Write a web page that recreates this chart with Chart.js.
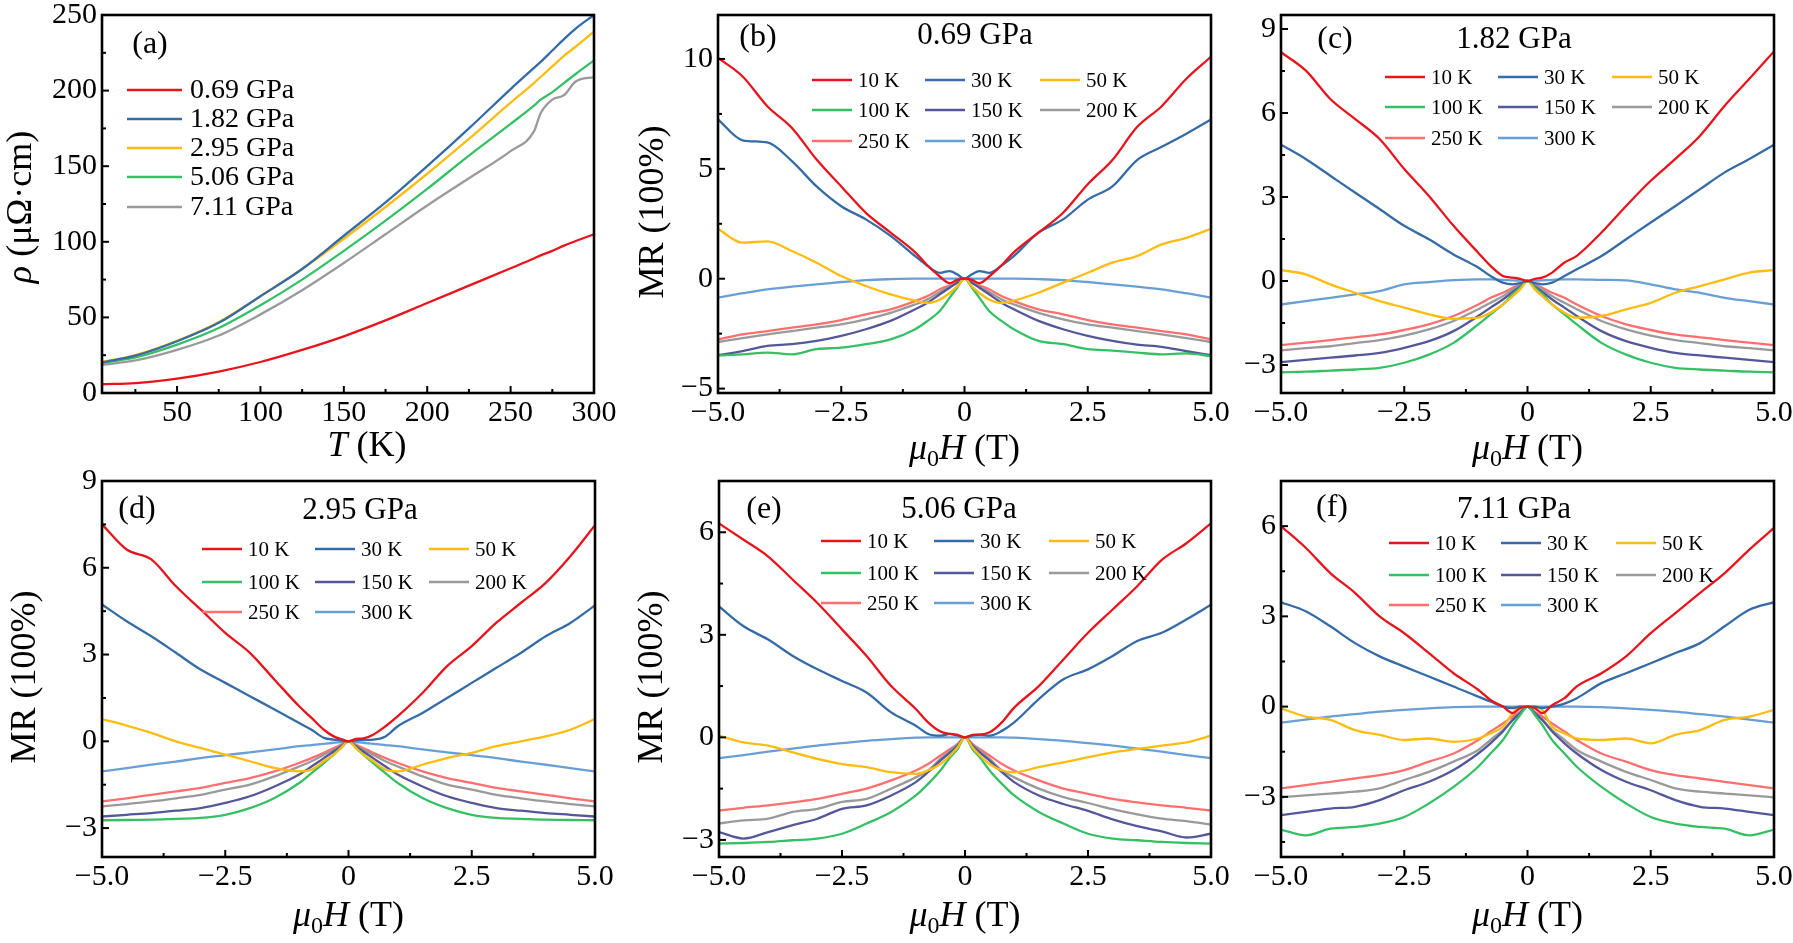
<!DOCTYPE html>
<html>
<head>
<meta charset="utf-8">
<script src="https://cdn.jsdelivr.net/npm/chart.js@4.4.0/dist/chart.umd.min.js"></script>
<style>
  body { margin: 0; background: #fff; width: 1793px; height: 943px; position: relative; overflow: hidden; }
  canvas { position: absolute; }
</style>
</head>
<body>
<script>
// ---- data ----
const T = [5, 25, 50, 75, 100, 125, 150, 175, 200, 225, 250, 264, 268, 275, 282, 289, 300];
const rho069 = [5.8, 6.5, 9.5, 14.2, 20.5, 28.5, 37.5, 48, 59.5, 71, 82.5, 89, 91, 94, 97.5, 100.5, 105];
const rho182 = [20.3, 24.7, 34.2, 46.4, 64, 82, 104, 126, 150, 175, 201, 215, 219, 226.5, 234, 241, 250];
const rho295 = [20.5, 25, 34.5, 47, 64, 82, 102, 123, 145, 168, 192, 205, 209, 216, 223, 229, 239];
const rho506 = [19.8, 23.5, 32, 43, 58, 75, 94, 114, 135, 157, 178, 190, 194, 199, 205, 211, 220];
const rho711 = [18.5, 21.5, 28.5, 38, 52, 68, 86, 105, 124, 142, 160, 173, 185, 194, 197, 206, 209];
const PRESSURES = ['0.69 GPa', '1.82 GPa', '2.95 GPa', '5.06 GPa', '7.11 GPa'];

const H = [-5, -4.5, -4, -3.5, -3, -2.5, -2, -1.5, -1, -0.75, -0.5, -0.3, -0.15, 0, 0.15, 0.3, 0.5, 0.75, 1, 1.5, 2, 2.5, 3, 3.5, 4, 4.5, 5];
const TEMPS = ['10 K', '30 K', '50 K', '100 K', '150 K', '200 K', '250 K', '300 K'];

// (b) 0.69 GPa
const b10  = [10.05, 9.2, 7.85, 6.86, 5.42, 4.2, 3.0, 2.1, 1.2, 0.6, 0.1, -0.2, -0.05, 0, -0.05, -0.2, 0.1, 0.6, 1.2, 2.1, 3.0, 4.3, 5.4, 6.9, 7.85, 9.1, 10.1];
const b30  = [7.25, 6.3, 6.2, 5.35, 4.2, 3.3, 2.7, 1.95, 1.03, 0.58, 0.27, 0.35, 0.2, 0, 0.2, 0.35, 0.27, 0.6, 1.03, 2.1, 2.7, 3.6, 4.2, 5.4, 6.0, 6.6, 7.25];
const b50  = [2.27, 1.64, 1.7, 1.26, 0.73, 0.12, -0.33, -0.71, -1.0, -1.1, -0.95, -0.65, -0.35, 0, -0.35, -0.65, -0.95, -1.1, -1.0, -0.64, -0.18, 0.27, 0.73, 1.03, 1.56, 1.86, 2.27];
const b100 = [-3.5, -3.44, -3.36, -3.44, -3.2, -3.14, -2.98, -2.76, -2.3, -1.92, -1.47, -0.86, -0.41, 0, -0.41, -0.86, -1.47, -1.92, -2.3, -2.83, -2.98, -3.2, -3.27, -3.36, -3.44, -3.4, -3.52];
const b150 = [-3.48, -3.29, -3.06, -2.98, -2.83, -2.6, -2.3, -1.92, -1.39, -1.09, -0.71, -0.41, -0.18, 0, -0.18, -0.41, -0.71, -1.09, -1.39, -1.92, -2.3, -2.6, -2.83, -3.0, -3.1, -3.3, -3.48];
const b200 = [-2.88, -2.7, -2.53, -2.38, -2.23, -2.08, -1.85, -1.55, -1.17, -0.94, -0.6, -0.36, -0.18, 0, -0.18, -0.36, -0.6, -0.94, -1.17, -1.55, -1.85, -2.08, -2.23, -2.38, -2.53, -2.7, -2.88];
const b250 = [-2.76, -2.53, -2.38, -2.23, -2.08, -1.88, -1.62, -1.39, -1.02, -0.79, -0.48, -0.3, -0.15, 0, -0.15, -0.3, -0.48, -0.79, -1.02, -1.39, -1.62, -1.88, -2.08, -2.23, -2.38, -2.53, -2.76];
const b300 = [-0.86, -0.66, -0.48, -0.36, -0.26, -0.15, -0.06, -0.02, 0, 0, 0, 0, 0, 0, 0, 0, 0, 0, 0, -0.02, -0.06, -0.15, -0.26, -0.36, -0.48, -0.66, -0.86];

// (c) 1.82 GPa
const c10  = [8.17, 7.52, 6.5, 5.79, 5.07, 4.0, 3.04, 1.97, 1.01, 0.54, 0.18, 0.12, 0.08, 0, 0.08, 0.12, 0.3, 0.66, 0.9, 1.73, 2.68, 3.58, 4.36, 5.19, 6.26, 7.22, 8.2];
const c30  = [4.87, 4.36, 3.76, 3.16, 2.57, 1.97, 1.49, 0.95, 0.48, 0.18, -0.06, -0.12, -0.08, 0, -0.08, -0.12, -0.06, 0.18, 0.42, 0.89, 1.49, 2.09, 2.68, 3.28, 3.88, 4.36, 4.87];
const c50  = [0.39, 0.24, -0.12, -0.42, -0.72, -0.95, -1.19, -1.35, -1.31, -1.13, -0.84, -0.54, -0.3, 0, -0.3, -0.54, -0.84, -1.13, -1.31, -1.25, -1.01, -0.78, -0.42, -0.18, 0.06, 0.3, 0.39];
const c100 = [-3.26, -3.24, -3.2, -3.16, -3.1, -2.92, -2.63, -2.21, -1.55, -1.19, -0.84, -0.48, -0.24, 0, -0.24, -0.48, -0.84, -1.19, -1.55, -2.21, -2.63, -2.92, -3.1, -3.16, -3.2, -3.24, -3.26];
const c150 = [-2.9, -2.82, -2.74, -2.66, -2.57, -2.39, -2.15, -1.79, -1.25, -0.95, -0.66, -0.39, -0.2, 0, -0.2, -0.39, -0.66, -0.95, -1.25, -1.79, -2.15, -2.39, -2.57, -2.66, -2.74, -2.82, -2.9];
const c200 = [-2.48, -2.4, -2.33, -2.22, -2.11, -1.95, -1.73, -1.43, -1.01, -0.78, -0.54, -0.3, -0.16, 0, -0.16, -0.3, -0.54, -0.78, -1.01, -1.43, -1.73, -1.95, -2.11, -2.22, -2.33, -2.4, -2.48];
const c250 = [-2.29, -2.2, -2.11, -2.01, -1.91, -1.75, -1.55, -1.25, -0.84, -0.6, -0.42, -0.24, -0.12, 0, -0.12, -0.24, -0.42, -0.6, -0.84, -1.25, -1.55, -1.75, -1.91, -2.01, -2.11, -2.2, -2.29];
const c300 = [-0.84, -0.72, -0.6, -0.48, -0.36, -0.12, -0.04, 0.03, 0.06, 0.06, 0.04, 0.02, 0.01, 0, 0.01, 0.02, 0.04, 0.06, 0.06, 0.04, 0.02, -0.12, -0.3, -0.42, -0.6, -0.72, -0.84];

// (d) 2.95 GPa
const d10  = [7.5, 6.63, 6.29, 5.36, 4.56, 3.75, 3.06, 2.13, 1.21, 0.81, 0.4, 0.17, 0.08, 0, 0.08, 0.1, 0.23, 0.52, 0.87, 1.67, 2.6, 3.29, 4.1, 4.79, 5.48, 6.4, 7.47];
const d30  = [4.73, 4.15, 3.63, 3.06, 2.48, 2.02, 1.56, 1.1, 0.63, 0.4, 0.12, 0.06, 0.03, 0, 0.03, 0.05, 0.06, 0.17, 0.52, 0.98, 1.5, 2.02, 2.54, 3.06, 3.63, 4.09, 4.7];
const d50  = [0.77, 0.54, 0.29, 0, -0.23, -0.46, -0.69, -0.92, -1.04, -0.98, -0.69, -0.46, -0.23, 0, -0.23, -0.46, -0.69, -0.98, -1.04, -0.81, -0.58, -0.4, -0.17, 0, 0.17, 0.4, 0.77];
const d100 = [-2.73, -2.72, -2.71, -2.68, -2.65, -2.54, -2.31, -1.96, -1.44, -1.1, -0.75, -0.46, -0.23, 0, -0.23, -0.46, -0.75, -1.1, -1.44, -1.96, -2.31, -2.54, -2.65, -2.68, -2.71, -2.72, -2.73];
const d150 = [-2.6, -2.54, -2.48, -2.4, -2.31, -2.13, -1.9, -1.56, -1.15, -0.87, -0.58, -0.35, -0.17, 0, -0.17, -0.35, -0.58, -0.87, -1.15, -1.56, -1.9, -2.13, -2.31, -2.4, -2.48, -2.54, -2.6];
const d200 = [-2.25, -2.17, -2.08, -1.97, -1.85, -1.67, -1.5, -1.21, -0.87, -0.69, -0.46, -0.29, -0.15, 0, -0.15, -0.29, -0.46, -0.69, -0.87, -1.21, -1.5, -1.67, -1.85, -1.97, -2.08, -2.17, -2.25];
const d250 = [-2.08, -1.97, -1.85, -1.73, -1.61, -1.44, -1.27, -1.04, -0.75, -0.58, -0.4, -0.23, -0.12, 0, -0.12, -0.23, -0.4, -0.58, -0.75, -1.04, -1.27, -1.44, -1.61, -1.73, -1.85, -1.97, -2.08];
const d300 = [-1.04, -0.93, -0.81, -0.7, -0.58, -0.48, -0.38, -0.28, -0.17, -0.13, -0.09, -0.05, -0.03, 0, -0.03, -0.05, -0.09, -0.13, -0.17, -0.28, -0.38, -0.48, -0.58, -0.7, -0.81, -0.93, -1.04];

// (e) 5.06 GPa
const e10  = [6.26, 5.78, 5.29, 4.61, 3.93, 3.16, 2.38, 1.5, 0.83, 0.44, 0.17, 0.1, 0.07, 0, 0.07, 0.08, 0.15, 0.44, 0.87, 1.5, 2.28, 3.06, 3.74, 4.42, 5.19, 5.68, 6.26];
const e30  = [3.83, 3.25, 2.86, 2.38, 1.99, 1.65, 1.31, 0.73, 0.34, 0.1, 0.05, 0.1, 0.05, 0, 0.05, 0.08, 0.05, 0.19, 0.44, 1.12, 1.7, 1.99, 2.38, 2.82, 3.06, 3.45, 3.88];
const e50  = [0.05, -0.15, -0.24, -0.44, -0.63, -0.78, -0.87, -1.02, -1.07, -0.97, -0.78, -0.53, -0.29, 0, -0.29, -0.53, -0.78, -0.97, -1.02, -0.87, -0.73, -0.58, -0.44, -0.34, -0.24, -0.15, 0.05];
const e100 = [-3.11, -3.09, -3.06, -3.01, -2.96, -2.82, -2.52, -2.18, -1.7, -1.36, -0.97, -0.58, -0.34, 0, -0.34, -0.58, -0.97, -1.36, -1.7, -2.18, -2.52, -2.82, -2.96, -3.01, -3.06, -3.09, -3.11];
const e150 = [-2.77, -2.96, -2.77, -2.57, -2.38, -2.09, -1.99, -1.7, -1.31, -1.02, -0.68, -0.44, -0.24, 0, -0.24, -0.44, -0.68, -1.02, -1.31, -1.7, -1.95, -2.15, -2.4, -2.6, -2.75, -2.93, -2.82];
const e200 = [-2.52, -2.43, -2.38, -2.18, -2.09, -1.89, -1.8, -1.5, -1.17, -0.97, -0.63, -0.39, -0.2, 0, -0.2, -0.39, -0.63, -0.97, -1.17, -1.5, -1.75, -1.92, -2.1, -2.25, -2.38, -2.45, -2.55];
const e250 = [-2.14, -2.06, -1.99, -1.9, -1.8, -1.65, -1.5, -1.26, -0.97, -0.78, -0.53, -0.34, -0.19, 0, -0.19, -0.34, -0.53, -0.78, -0.97, -1.26, -1.5, -1.65, -1.8, -1.9, -1.99, -2.06, -2.14];
const e300 = [-0.61, -0.52, -0.42, -0.33, -0.24, -0.17, -0.1, -0.05, -0.01, 0, 0, 0, 0, 0, 0, 0, 0, 0, -0.01, -0.05, -0.1, -0.17, -0.24, -0.33, -0.42, -0.52, -0.61];

// (f) 7.11 GPa
const f10  = [6.0, 5.28, 4.44, 3.78, 3.0, 2.44, 1.78, 1.11, 0.56, 0.22, 0, -0.22, -0.05, 0, -0.05, -0.22, 0.05, 0.28, 0.67, 1.11, 1.67, 2.44, 3.11, 3.78, 4.44, 5.22, 5.94];
const f30  = [3.47, 3.17, 2.67, 2.11, 1.67, 1.33, 1.0, 0.67, 0.33, 0.17, 0, -0.05, 0, 0, 0, -0.05, 0, 0.1, 0.28, 0.78, 1.11, 1.44, 1.78, 2.11, 2.67, 3.22, 3.47];
const f50  = [-0.06, -0.33, -0.44, -0.78, -0.94, -1.11, -1.06, -1.17, -1.06, -0.89, -0.67, -0.22, 0, 0, 0, -0.11, -0.67, -0.89, -1.06, -1.11, -1.06, -1.22, -0.94, -0.78, -0.44, -0.33, -0.11];
const f100 = [-4.09, -4.28, -4.06, -4.0, -3.89, -3.67, -3.22, -2.67, -2.0, -1.56, -1.11, -0.61, -0.28, 0, -0.28, -0.61, -1.11, -1.56, -2.0, -2.67, -3.22, -3.67, -3.89, -4.0, -4.06, -4.28, -4.09];
const f150 = [-3.61, -3.5, -3.39, -3.33, -3.11, -2.78, -2.5, -2.11, -1.56, -1.22, -0.83, -0.44, -0.22, 0, -0.22, -0.44, -0.83, -1.22, -1.56, -2.11, -2.5, -2.78, -3.11, -3.33, -3.39, -3.5, -3.61];
const f200 = [-3.02, -2.95, -2.89, -2.83, -2.72, -2.44, -2.17, -1.83, -1.44, -1.11, -0.78, -0.44, -0.22, 0, -0.22, -0.44, -0.78, -1.11, -1.44, -1.83, -2.17, -2.44, -2.72, -2.83, -2.89, -2.95, -3.02];
const f250 = [-2.72, -2.61, -2.5, -2.39, -2.28, -2.11, -1.83, -1.56, -1.11, -0.83, -0.56, -0.33, -0.17, 0, -0.17, -0.33, -0.56, -0.83, -1.11, -1.56, -1.83, -2.11, -2.28, -2.39, -2.5, -2.61, -2.72];
const f300 = [-0.53, -0.43, -0.33, -0.25, -0.17, -0.11, -0.06, -0.02, 0, 0, 0, 0, 0, 0, 0, 0, 0, 0, 0, -0.02, -0.06, -0.11, -0.17, -0.25, -0.33, -0.43, -0.53];

// ticks
const T_TICKS = [50, 100, 150, 200, 250, 300];
const T_MINOR = [25, 75, 125, 175, 225, 275];
const RHO_TICKS = [0, 50, 100, 150, 200, 250];
const RHO_MINOR = [25, 75, 125, 175, 225];
const H_TICKS = [-5, -2.5, 0, 2.5, 5];
const H_MINOR = [-3.75, -1.25, 1.25, 3.75];

const TEMP_COLORS = ['#e8141c', '#356ba6', '#fcbc12', '#35c065', '#55579b', '#9a9a9a', '#ff6f6f', '#6a9fd6'];
const P_COLORS = ['#e8141c', '#356ba6', '#fcbc12', '#35c065', '#9a9a9a'];

Chart.defaults.font.family = '"Liberation Serif", "DejaVu Serif", serif';
Chart.defaults.color = '#000';

const MINUS = '\u2212';
const fmtInt = v => (v < 0 ? MINUS : '') + Math.abs(v);
const fmtH = v => v === 0 ? '0' : (v < 0 ? MINUS : '') + Math.abs(v).toFixed(1);
const FONT = Chart.defaults.font.family;

function drawRuns(ctx, runs, cx, cy, rot) {
  ctx.save();
  ctx.translate(cx, cy);
  if (rot) ctx.rotate(-Math.PI / 2);
  ctx.textBaseline = 'middle';
  ctx.textAlign = 'left';
  let total = 0;
  runs.forEach(r => {
    ctx.font = (r.it ? 'italic ' : '') + r.size + 'px ' + FONT;
    r.w = ctx.measureText(r.t).width;
    total += r.w;
  });
  let x = -total / 2;
  runs.forEach(r => {
    ctx.font = (r.it ? 'italic ' : '') + r.size + 'px ' + FONT;
    ctx.fillText(r.t, x, r.dy || 0);
    x += r.w;
  });
  ctx.restore();
}

function deco(p) {
  return {
    id: 'deco',
    afterDraw(chart) {
      const ctx = chart.ctx, a = chart.chartArea, xs = chart.scales.x, ys = chart.scales.y;
      ctx.save();
      ctx.strokeStyle = '#000';
      ctx.lineWidth = 2;
      const seg = (x1, y1, x2, y2) => { ctx.beginPath(); ctx.moveTo(x1, y1); ctx.lineTo(x2, y2); ctx.stroke(); };
      p.xTicks.forEach(v => { const x = xs.getPixelForValue(v); seg(x, a.bottom, x, a.bottom - 7); });
      p.xMinor.forEach(v => { const x = xs.getPixelForValue(v); seg(x, a.bottom, x, a.bottom - 4); });
      p.yTicks.forEach(v => { const y = ys.getPixelForValue(v); seg(a.left, y, a.left + 7, y); });
      p.yMinor.forEach(v => { const y = ys.getPixelForValue(v); seg(a.left, y, a.left + 4, y); });
      ctx.lineWidth = 2.6;
      ctx.strokeRect(a.left, a.top, a.right - a.left, a.bottom - a.top);

      ctx.fillStyle = '#000';
      ctx.textBaseline = 'middle';
      ctx.textAlign = 'center';
      ctx.font = '32px ' + FONT;
      ctx.fillText(p.tag, a.left + p.tagPos[0], a.top + p.tagPos[1]);
      if (p.title) {
        ctx.font = '31px ' + FONT;
        ctx.fillText(p.title, a.left + p.titlePos[0], a.top + p.titlePos[1]);
      }

      // legend
      const L = p.legend;
      chart.data.datasets.forEach((ds, i) => {
        const row = Math.floor(i / L.cols), col = i % L.cols;
        const x0 = a.left + L.colX[col], y = a.top + L.rowY[row];
        ctx.strokeStyle = ds.borderColor;
        ctx.lineWidth = 2.6;
        seg(x0, y, x0 + L.len, y);
        ctx.fillStyle = '#000';
        ctx.textAlign = 'left';
        ctx.font = L.size + 'px ' + FONT;
        ctx.fillText(ds.label, x0 + L.len + L.gap, y + 1);
      });

      drawRuns(ctx, p.xTitle, (a.left + a.right) / 2 + p.xTitleOff[0], a.bottom + p.xTitleOff[1], false);
      if (p.yTitle) drawRuns(ctx, p.yTitle, a.left + p.yTitleOff[0], (a.top + a.bottom) / 2 + p.yTitleOff[1], true);
      ctx.restore();
    }
  };
}

function makePanel(p) {
  const PADL = 115, PADT = 24, PADR = 36, PADB = 80;
  const cv = document.createElement('canvas');
  cv.width = p.w + PADL + PADR;
  cv.height = p.h + PADT + PADB;
  cv.style.left = (p.l - PADL) + 'px';
  cv.style.top = (p.t - PADT) + 'px';
  document.body.appendChild(cv);

  new Chart(cv, {
    type: 'line',
    data: {
      datasets: p.series.map((ys, i) => ({
        label: p.labels[i],
        data: p.x.map((x, j) => ({ x: x, y: ys[j] })),
        borderColor: p.colors[i],
        borderWidth: 2.3,
        pointRadius: 0,
        cubicInterpolationMode: 'monotone',
        fill: false
      }))
    },
    options: {
      responsive: false,
      animation: false,
      events: [],
      layout: { padding: { top: PADT, right: PADR, left: 0, bottom: 0 } },
      plugins: { legend: { display: false }, tooltip: { enabled: false } },
      scales: {
        x: {
          type: 'linear', min: p.xMin, max: p.xMax,
          afterFit: s => { s.height = PADB; },
          afterBuildTicks: s => { s.ticks = p.xTicks.map(v => ({ value: v })); },
          grid: { display: false, drawTicks: false },
          border: { display: false },
          ticks: { font: { size: 30 }, color: '#000', padding: 2, maxRotation: 0, autoSkip: false, callback: p.xFmt }
        },
        y: {
          type: 'linear', min: p.yMin, max: p.yMax,
          afterFit: s => { s.width = PADL; },
          afterBuildTicks: s => { s.ticks = p.yTicks.map(v => ({ value: v })); },
          grid: { display: false, drawTicks: false },
          border: { display: false },
          ticks: { font: { size: 30 }, color: '#000', padding: 5, autoSkip: false, callback: fmtInt }
        }
      }
    },
    plugins: [deco(p)]
  });
}

const MU0H = [{ t: '\u03bc', it: true, size: 36 }, { t: '0', size: 24, dy: 10 }, { t: 'H', it: true, size: 36 }, { t: ' (T)', size: 36 }];
const MRT = [{ t: 'MR (100%)', size: 36 }];
const mrLegend = (rowY, colX) => ({ cols: 3, rowY: rowY, colX: colX, len: 40, gap: 6, size: 21 });

// (a)
makePanel({
  l: 102, t: 15, w: 492, h: 378,
  x: T, series: [rho069, rho182, rho295, rho506, rho711], labels: PRESSURES, colors: P_COLORS,
  xMin: 5, xMax: 300, xTicks: T_TICKS, xMinor: T_MINOR, xFmt: fmtInt,
  yMin: 0, yMax: 250, yTicks: RHO_TICKS, yMinor: RHO_MINOR,
  tag: '(a)', tagPos: [48, 30],
  legend: { cols: 1, rowY: [75, 104, 133, 162, 192], colX: [25], len: 55, gap: 8, size: 28 },
  xTitle: [{ t: 'T', it: true, size: 36 }, { t: ' (K)', size: 36 }], xTitleOff: [19, 54],
  yTitle: [{ t: '\u03c1', it: true, size: 36 }, { t: ' (\u03bc\u03a9\u00b7cm)', size: 36 }], yTitleOff: [-80, 3]
});

// (b)
makePanel({
  l: 718, t: 15, w: 493, h: 378,
  x: H, series: [b10, b30, b50, b100, b150, b200, b250, b300], labels: TEMPS, colors: TEMP_COLORS,
  xMin: -5, xMax: 5, xTicks: H_TICKS, xMinor: H_MINOR, xFmt: fmtH,
  yMin: -5.2, yMax: 12, yTicks: [-5, 0, 5, 10], yMinor: [-2.5, 2.5, 7.5],
  tag: '(b)', tagPos: [40, 23], title: PRESSURES[0], titlePos: [257, 21],
  legend: mrLegend([65, 95, 126], [94, 207, 322]),
  xTitle: MU0H, xTitleOff: [0, 57], yTitle: MRT, yTitleOff: [-64, 8]
});

// (c)
makePanel({
  l: 1281, t: 15, w: 493, h: 378,
  x: H, series: [c10, c30, c50, c100, c150, c200, c250, c300], labels: TEMPS, colors: TEMP_COLORS,
  xMin: -5, xMax: 5, xTicks: H_TICKS, xMinor: H_MINOR, xFmt: fmtH,
  yMin: -4, yMax: 9.5, yTicks: [-3, 0, 3, 6, 9], yMinor: [-1.5, 1.5, 4.5, 7.5],
  tag: '(c)', tagPos: [54, 25], title: PRESSURES[1], titlePos: [233, 25],
  legend: mrLegend([62, 92, 123], [104, 217, 331]),
  xTitle: MU0H, xTitleOff: [0, 57]
});

// (d)
makePanel({
  l: 102, t: 481, w: 493, h: 376,
  x: H, series: [d10, d30, d50, d100, d150, d200, d250, d300], labels: TEMPS, colors: TEMP_COLORS,
  xMin: -5, xMax: 5, xTicks: H_TICKS, xMinor: H_MINOR, xFmt: fmtH,
  yMin: -4, yMax: 9, yTicks: [-3, 0, 3, 6, 9], yMinor: [-1.5, 1.5, 4.5, 7.5],
  tag: '(d)', tagPos: [35, 29], title: PRESSURES[2], titlePos: [258, 30],
  legend: mrLegend([68, 101, 131], [100, 213, 327]),
  xTitle: MU0H, xTitleOff: [0, 60], yTitle: MRT, yTitleOff: [-76, 8]
});

// (e)
makePanel({
  l: 719, t: 481, w: 492, h: 376,
  x: H, series: [e10, e30, e50, e100, e150, e200, e250, e300], labels: TEMPS, colors: TEMP_COLORS,
  xMin: -5, xMax: 5, xTicks: H_TICKS, xMinor: H_MINOR, xFmt: fmtH,
  yMin: -3.5, yMax: 7.5, yTicks: [-3, 0, 3, 6], yMinor: [-1.5, 1.5, 4.5],
  tag: '(e)', tagPos: [45, 29], title: PRESSURES[3], titlePos: [240, 29],
  legend: mrLegend([60, 92, 122], [102, 215, 330]),
  xTitle: MU0H, xTitleOff: [0, 60], yTitle: MRT, yTitleOff: [-66, 8]
});

// (f)
makePanel({
  l: 1281, t: 481, w: 493, h: 376,
  x: H, series: [f10, f30, f50, f100, f150, f200, f250, f300], labels: TEMPS, colors: TEMP_COLORS,
  xMin: -5, xMax: 5, xTicks: H_TICKS, xMinor: H_MINOR, xFmt: fmtH,
  yMin: -5, yMax: 7.5, yTicks: [-3, 0, 3, 6], yMinor: [-4.5, -1.5, 1.5, 4.5],
  tag: '(f)', tagPos: [51, 27], title: PRESSURES[4], titlePos: [233, 29],
  legend: mrLegend([62, 94, 124], [108, 220, 335]),
  xTitle: MU0H, xTitleOff: [0, 60]
});
</script>
</body>
</html>
